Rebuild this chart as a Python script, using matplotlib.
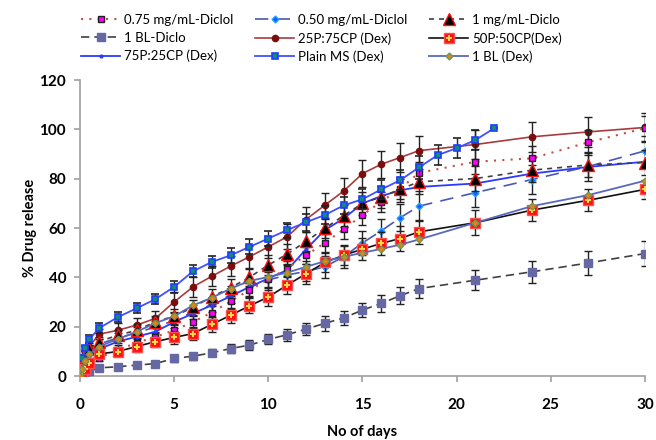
import matplotlib
matplotlib.use("Agg")
import matplotlib.pyplot as plt
from matplotlib.legend_handler import HandlerTuple

plt.rcParams['font.family'] = ['Lato', 'DejaVu Sans']

# sampling days
days = [0, 0.125, 0.25, 0.5, 1, 2, 3, 4, 5, 6, 7, 8, 9, 10, 11, 12, 13, 14,
        15, 16, 17, 18, 21, 24, 27, 30]
days_ms = [0, 0.125, 0.25, 0.5, 1, 2, 3, 4, 5, 6, 7, 8, 9, 10, 11, 12, 13, 14,
           15, 16, 17, 18, 19, 20, 21, 22]

diclo_075 = [0, 1.5, 3, 5, 7.5, 10.5, 13.6, 15.9, 18.6, 22, 25.8, 30.4, 34.9, 39.2,
             43.6, 49, 54, 59.5, 65.3, 70.7, 76, 82.4, 86.9, 88.3, 94.8, 100.5]
diclo_050 = [0, 3, 6, 9, 13, 15.5, 17.5, 20, 22.5, 26, 29, 33, 36, 39, 41, 42.5,
             44.3, 48.4, 54, 58.9, 64.2, 68.9, 74.4, 79.7, 85, 91.3]
diclo_1 = [0, 4, 8, 11, 14, 16.6, 18.6, 22, 24.3, 27.9, 32.2, 35.9, 40.1, 45,
           49.5, 54.6, 59.9, 65.1, 70, 72.7, 75.7, 78.8, 80.1, 83.5, 85.6, 86.6]
bl_diclo = [0, 0.5, 1, 2, 3.4, 3.8, 4.5, 5.1, 7.2, 8.1, 9.5, 11.2, 12.6, 14.9,
            16.8, 19.1, 21.4, 23.6, 26.8, 29.5, 32.6, 35.5, 38.9, 42.3, 45.9, 49.7]
dex_25_75 = [0, 5.5, 9, 12, 17, 18.6, 20.7, 23.4, 30.1, 36.2, 40.5, 44.6, 48.4,
             52.4, 56.5, 63.5, 69.3, 75, 82.1, 85.9, 88.6, 91.4, 93.9, 97, 99, 100.8]
dex_50_50 = [0, 1.5, 3, 5.5, 9, 10, 12, 14, 15.7, 17.3, 21, 24.7, 28.5, 32.1,
             36.9, 41.5, 46.1, 49, 51.5, 53.8, 55.8, 58.5, 62.2, 67.3, 71.3, 75.7]
dex_75_25 = [0, 2, 5, 8, 11, 14, 16, 18, 22, 25.4, 28.8, 32.4, 36.2, 39.6, 43,
             51.4, 59.2, 63.9, 70, 73, 75.3, 76.7, 78.1, 82.1, 84.8, 86.9]
plain_ms = [0, 7.3, 11.4, 15, 19.4, 23.9, 27.5, 31.2, 36.2, 42.5, 46.3, 49, 52.4,
            55.8, 59.2, 62.4, 65.3, 69.2, 71.7, 75.7, 79.4, 84.6, 89.6, 92.4, 95.7, 100.5]
bl_dex = [0, 3, 6, 9, 12, 15, 18, 21.5, 24.3, 28.7, 31.8, 35.5, 38.6, 40.2, 42,
          44.3, 46.6, 48.4, 50, 51.6, 53.3, 55.4, 62.2, 68.9, 73.4, 79.2]

# error bars (standard deviation)
err_075 = [0, 0.5, 1, 1, 1.5, 2, 2, 2, 2, 2.5, 2.5, 3, 3, 3, 3, 3.5, 3.5, 4, 4, 4,
           4, 4.5, 5, 5, 5, 5]
err_1 = [0, 1, 1, 1.5, 2, 2, 2.5, 2.5, 3, 3, 3, 3.5, 3.5, 4, 4, 4, 4, 4.5, 4.5,
         4.5, 5, 5, 5, 5, 5, 5]
err_bl = [0, 0.3, 0.5, 0.5, 0.8, 1, 1, 1, 1.5, 1.5, 1.5, 2, 2, 2, 2.5, 2.5, 3,
          3, 3, 3.5, 3.5, 4, 4, 4.5, 5, 5]
err_2575 = [0, 1, 1, 1.5, 2, 3, 3, 3, 4, 4, 4, 4, 4.5, 4.5, 5, 5, 5, 5.5, 5.5,
            5.5, 6, 6, 6, 6, 6, 6]
err_5050 = [0, 0.5, 1, 1, 1.5, 2, 2, 2, 2.5, 2.5, 3, 3, 3, 3.5, 3.5, 4, 4, 4,
            4.5, 4.5, 5, 5, 5, 4.5, 4.5, 4]
err_050 = [0, 1, 1, 1.5, 2, 2, 2.5, 2.5, 3, 3, 3, 3.5, 3.5, 4, 4, 4, 4.5, 4.5,
           5, 5, 5.5, 6, 6, 6, 6, 6]
err_ms = [0, 1, 1, 1.5, 2, 2, 2, 2, 2.5, 2.5, 2.5, 3, 3, 3, 3, 3.5, 3.5, 3.5, 4,
          4, 4, 4.5, 4, 4, 4, 0]

fig = plt.figure(figsize=(6.56, 4.4), dpi=100)
ax = fig.add_axes((0.122, 0.145, 0.861, 0.673))

eb = dict(ecolor='#222222', elinewidth=1.0, capsize=3, capthick=1.0)

h1 = ax.errorbar(days, bl_diclo, yerr=err_bl, color='#404040', ls=(0, (5, 3)), lw=1.2,
                 marker='s', ms=5.5, mfc='#6668A4', mec='#6668A4', zorder=3, **eb)
h2 = ax.errorbar(days, dex_25_75, yerr=err_2575, color='#A83C3C', ls='-', lw=1.2,
                 marker='o', ms=4.5, mfc='#7A0E0E', mec='#7A0E0E', zorder=3, **eb)
h3 = ax.errorbar(days, diclo_050, yerr=err_050, color='#4A58B0', ls=(0, (8, 5)), lw=1.2,
                 marker='D', ms=3.5, mfc='#1060FF', mec='#30A0FF', zorder=3, **eb)
h4 = ax.errorbar(days, diclo_075, yerr=err_075, color='#C0504D', ls=(0, (1, 3)), lw=1.5,
                 marker='s', ms=4.5, mfc='#FF00FF', mec='#202020', zorder=4, **eb)
h5 = ax.errorbar(days, diclo_1, yerr=err_1, color='#404040', ls=(0, (3, 3)), lw=1.2,
                 marker='^', ms=8, mfc='black', mec='#FF1010', mew=1.0, zorder=4, **eb)
h6, = ax.plot(days, dex_75_25, color='#2A3AFF', ls='-', lw=1.3,
              marker='o', ms=2, mfc='#2A3AFF', mec='#2A3AFF', zorder=4)
h7 = ax.errorbar(days_ms, plain_ms, yerr=err_ms, color='#4050FF', ls='-', lw=1.3,
                 marker='s', ms=5, mfc='#12897A', mec='#1E3CFF', mew=1.2, zorder=5, **eb)
h8 = ax.errorbar(days, dex_50_50, yerr=err_5050, color='#111111', ls='-', lw=1.2,
                 marker='s', ms=7.5, mfc='#FF1010', mec='#FF5050', zorder=5, **eb)
h8b, = ax.plot(days, dex_50_50, ls='none', marker='+', ms=5, mew=1.4,
               color='#FFE040', zorder=6)
h9, = ax.plot(days, bl_dex, color='#5868BE', ls='-', lw=1.3,
              marker='D', ms=3.5, mfc='#E8801C', mec='#6A9A50', zorder=6)

ax.set_xlim(0, 30)
ax.set_ylim(0, 120)
ax.set_xticks(range(0, 31, 5))
ax.set_yticks(range(0, 121, 20))
for s in ['top', 'right']:
    ax.spines[s].set_visible(False)
for s in ['left', 'bottom']:
    ax.spines[s].set_color('#A0A0A0')
    ax.spines[s].set_linewidth(1.2)
ax.tick_params(colors='#A0A0A0', length=4, width=1.2, labelcolor='black',
               labelsize=11)
ax.tick_params(axis='x', pad=12)
ax.tick_params(axis='y', pad=6)
for lab in ax.get_xticklabels() + ax.get_yticklabels():
    lab.set_fontweight('bold')
ax.set_xlabel('No of days', fontsize=10.5, fontweight='bold', labelpad=9)
ax.set_ylabel('% Drug release', fontsize=10.5, fontweight='bold', labelpad=2)

handles = [h4[0], h1[0], h6, h3[0], h2[0], h7[0], h5[0], (h8[0], h8b), h9]
labels = ['0.75 mg/mL-Diclol', '1 BL-Diclo', '75P:25CP (Dex)',
          '0.50 mg/mL-Diclol', '25P:75CP (Dex)', 'Plain MS (Dex)',
          '1 mg/mL-Diclo', '50P:50CP(Dex)', '1 BL (Dex)']
fig.legend(handles, labels, ncol=3, loc='upper left', bbox_to_anchor=(0.105, 0.995),
           frameon=False, fontsize=9.5, handlelength=3.0, columnspacing=1.6,
           labelspacing=0.45, handletextpad=0.3,
           handler_map={tuple: HandlerTuple(ndivide=1)})

fig.savefig('out.png', dpi=100)
